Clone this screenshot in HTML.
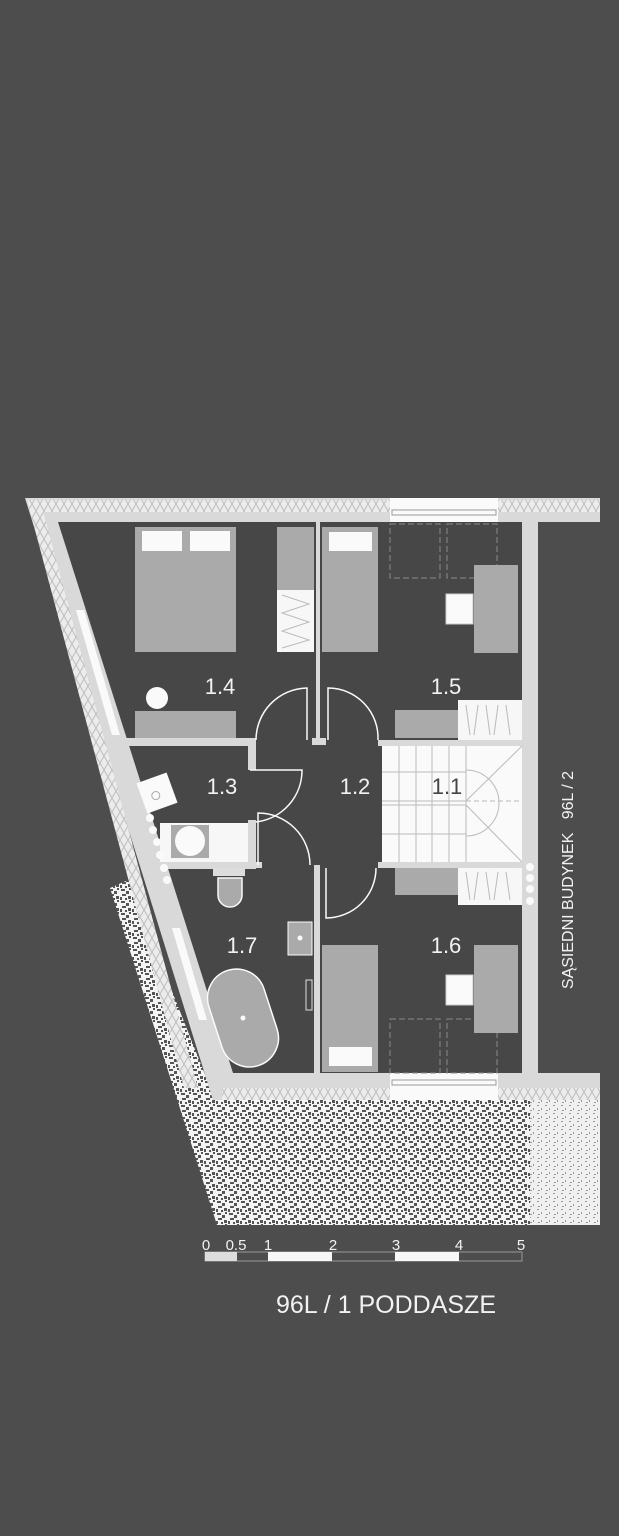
<!DOCTYPE html>
<html><head><meta charset="utf-8"><style>
html,body{margin:0;padding:0;background:#4d4d4d;}
svg{display:block}
text{font-family:"Liberation Sans",sans-serif;fill:#f2f2f2}
</style></head><body>
<svg width="619" height="1536" viewBox="0 0 619 1536" xmlns="http://www.w3.org/2000/svg">
<defs>
<pattern id="grav" width="12" height="12" patternUnits="userSpaceOnUse">
<rect width="12" height="12" fill="#f4f4f4"/>
<rect x="1" y="1" width="4" height="2" fill="#555"/>
<rect x="6" y="3" width="3" height="3" fill="#555"/>
<rect x="9" y="0" width="2" height="2" fill="#555"/>
<rect x="2" y="6" width="4" height="2" fill="#555"/>
<rect x="8" y="8" width="3" height="3" fill="#555"/>
<rect x="0" y="9" width="2" height="3" fill="#555"/>
<rect x="5" y="10" width="2" height="2" fill="#555"/>
</pattern>
<pattern id="grav2" width="8" height="8" patternUnits="userSpaceOnUse">
<rect width="8" height="8" fill="#f0f0f0"/>
<rect x="1" y="1" width="2" height="1" fill="#999"/>
<rect x="5" y="4" width="1" height="2" fill="#999"/>
<rect x="2" y="6" width="2" height="1" fill="#999"/>
</pattern>
<pattern id="ins" width="8" height="14" patternUnits="userSpaceOnUse">
<rect width="8" height="14" fill="#ececec"/>
<path d="M0 0 L4 7 L8 0 M0 14 L4 7 L8 14" stroke="#bdbdbd" stroke-width="1" fill="none"/>
</pattern>
</defs>
<polygon points="110,888 128,880 215,1100 600,1100 600,1225 217,1225" fill="url(#grav)"/>
<rect x="530" y="1100" width="70" height="125" fill="url(#grav2)"/>
<polygon points="58,522 522,522 522,1073 233,1073" fill="#474747"/>
<path d="M25,498 L600,498 L600,522 L538,522 L538,1073 L600,1073 L600,1100 L213,1100 Z M58,522 L233,1073 L522,1073 L522,522 Z" fill="#d9d9d9" fill-rule="evenodd"/>
<rect x="40" y="500" width="350" height="12" fill="url(#ins)"/>
<rect x="498" y="500" width="102" height="12" fill="url(#ins)"/>
<rect x="222" y="1088" width="168" height="12" fill="url(#ins)"/>
<rect x="498" y="1088" width="102" height="12" fill="url(#ins)"/>
<polygon points="27,500 40,500 198,1088 184,1088" fill="url(#ins)"/>
<rect x="390" y="498" width="108" height="24" fill="#fafafa"/>
<rect x="392" y="510" width="104" height="5" fill="none" stroke="#999"/>
<rect x="390" y="1073" width="108" height="27" fill="#fafafa"/>
<rect x="392" y="1080" width="104" height="5" fill="none" stroke="#999"/>
<polygon points="76,610 84,610 120,735 112,735" fill="#fafafa"/>
<polygon points="172,928 180,928 207,1020 199,1020" fill="#fafafa"/>
<rect x="522" y="522" width="16" height="551" fill="#d9d9d9"/>
<rect x="316" y="522" width="4" height="218" fill="#d9d9d9"/>
<polygon points="120,738 250,738 250,746 123,746" fill="#d9d9d9"/>
<rect x="248" y="738" width="8" height="32" fill="#d9d9d9"/>
<rect x="248" y="820" width="8" height="48" fill="#d9d9d9"/>
<polygon points="153,862 256,862 256,869 155,869" fill="#d9d9d9"/>
<rect x="378" y="740" width="144" height="6" fill="#d9d9d9"/>
<rect x="378" y="862" width="144" height="6" fill="#d9d9d9"/>
<rect x="312" y="738" width="14" height="7" fill="#d9d9d9"/>
<rect x="314" y="865" width="6" height="208" fill="#d9d9d9"/>
<rect x="256" y="862" width="6" height="6" fill="#d9d9d9"/>
<rect x="382" y="746" width="140" height="116" fill="#fafafa"/>
<g stroke="#bbb" stroke-width="1" fill="none">
<path d="M399,746 V862 M416,746 V862 M432,746 V862 M449,746 V862 M466,746 V862"/>
<path d="M382,801 H466 M382,805 H466"/>
<path d="M466,801 L522,746 M466,805 L522,862"/>
<path d="M466,770 A33,33 0 0 1 466,836" />
<path d="M382,772 H466 M382,834 H466"/>
<path d="M466,801 H522" stroke-dasharray="5,3"/>
</g>
<rect x="135" y="527" width="101" height="125" fill="#aaa"/>
<rect x="142" y="531" width="40" height="20" fill="#fafafa"/>
<rect x="190" y="531" width="40" height="20" fill="#fafafa"/>
<rect x="277" y="527" width="37" height="63" fill="#aaa"/>
<rect x="277" y="590" width="37" height="62" fill="#f7f7f7"/>
<path d="M282,595 L309,604 L282,613 L309,622 L282,631 L309,640 L282,648" stroke="#bbb" fill="none"/>
<circle cx="157" cy="698" r="11" fill="#fafafa"/>
<rect x="135" y="711" width="101" height="27" fill="#aaa"/>
<rect x="322" y="527" width="56" height="125" fill="#aaa"/>
<rect x="329" y="532" width="43" height="19" fill="#fafafa"/>
<g stroke="#888" fill="none" stroke-dasharray="6,3">
<rect x="390" y="524" width="50" height="54"/><rect x="447" y="524" width="50" height="54"/>
<rect x="390" y="1019" width="50" height="54"/><rect x="447" y="1019" width="50" height="54"/>
</g>
<rect x="474" y="565" width="44" height="88" fill="#aaa"/>
<rect x="446" y="594" width="27" height="30" fill="#fafafa" stroke="#ccc"/>
<rect x="395" y="710" width="63" height="28" fill="#aaa"/>
<rect x="458" y="700" width="64" height="40" fill="#f7f7f7"/>
<path d="M466,705 L470,735 M478,705 L474,735 M486,705 L490,735 M498,705 L494,735 M506,705 L510,735" stroke="#bbb"/>
<rect x="395" y="868" width="63" height="27" fill="#aaa"/>
<rect x="458" y="868" width="64" height="37" fill="#f7f7f7"/>
<path d="M466,872 L470,900 M478,872 L474,900 M486,872 L490,900 M498,872 L494,900 M506,872 L510,900" stroke="#bbb"/>
<g fill="#fafafa"><circle cx="530" cy="867" r="4"/><circle cx="530" cy="878" r="4"/><circle cx="530" cy="889" r="4"/><circle cx="530" cy="901" r="4"/></g>
<rect x="474" y="945" width="44" height="88" fill="#aaa"/>
<rect x="446" y="975" width="27" height="30" fill="#fafafa" stroke="#ccc"/>
<rect x="322" y="945" width="56" height="127" fill="#aaa"/>
<rect x="329" y="1047" width="43" height="19" fill="#fafafa"/>
<rect x="160" y="823" width="88" height="39" fill="#f7f7f7"/>
<rect x="171" y="825" width="38" height="33" fill="#aaa"/>
<circle cx="190" cy="841" r="15" fill="#fafafa"/>
<g transform="rotate(-20 157 793)"><rect x="141" y="777" width="32" height="32" fill="#fafafa"/><circle cx="155" cy="795" r="4" fill="none" stroke="#aaa"/></g>
<g fill="#fafafa"><circle cx="150" cy="818" r="4"/><circle cx="153" cy="830" r="4"/><circle cx="157" cy="842" r="4"/><circle cx="160" cy="855" r="4"/><circle cx="164" cy="868" r="4"/><circle cx="167" cy="880" r="4"/></g>
<rect x="213" y="868" width="32" height="8" fill="#ddd"/>
<path d="M218,878 H242 V895 A12,12 0 0 1 218,895 Z" fill="#aaa" stroke="#fafafa" stroke-width="1.5"/>
<rect x="288" y="922" width="24" height="33" fill="#aaa" stroke="#fafafa"/>
<circle cx="300" cy="938" r="2.5" fill="#fafafa"/>
<rect x="306" y="980" width="6" height="30" fill="none" stroke="#ddd"/>
<g transform="rotate(-18 243 1018)"><rect x="214" y="968" width="58" height="100" rx="29" fill="#aaa" stroke="#fafafa" stroke-width="1.5"/><circle cx="243" cy="1018" r="2.5" fill="#fafafa"/></g>
<g stroke="#fafafa" stroke-width="1.5" fill="none">
<path d="M307,740 V688 A52,52 0 0 0 256,740"/>
<path d="M328,740 V688 A50,50 0 0 1 378,740"/>
<path d="M250,770 H302 A52,52 0 0 1 256,822"/>
<path d="M258,865 V813 A52,52 0 0 1 310,865"/>
<path d="M326,868 V918 A50,50 0 0 0 376,868"/>
</g>
<g font-size="22" text-anchor="middle">
<text x="220" y="694">1.4</text>
<text x="446" y="694">1.5</text>
<text x="222" y="794">1.3</text>
<text x="355" y="794">1.2</text>
<text x="447" y="794" style="fill:#444">1.1</text>
<text x="242" y="953">1.7</text>
<text x="446" y="953">1.6</text>
</g>
<text x="0" y="0" font-size="16" text-anchor="middle" transform="translate(573,880) rotate(-90)">SĄSIEDNI BUDYNEK&#160;&#160;&#160;96L / 2</text>
<g font-size="15" text-anchor="middle">
<text x="206" y="1250">0</text><text x="236" y="1250">0.5</text><text x="268" y="1250">1</text>
<text x="333" y="1250">2</text><text x="396" y="1250">3</text><text x="459" y="1250">4</text><text x="521" y="1250">5</text>
</g>
<rect x="205" y="1252" width="317" height="9" fill="none" stroke="#999"/>
<rect x="205" y="1252" width="32" height="9" fill="#ddd"/>
<rect x="268" y="1252" width="64" height="9" fill="#f7f7f7"/>
<rect x="395" y="1252" width="64" height="9" fill="#f7f7f7"/>
<text x="386" y="1313" font-size="25" text-anchor="middle">96L / 1 PODDASZE</text>
</svg>
</body></html>
